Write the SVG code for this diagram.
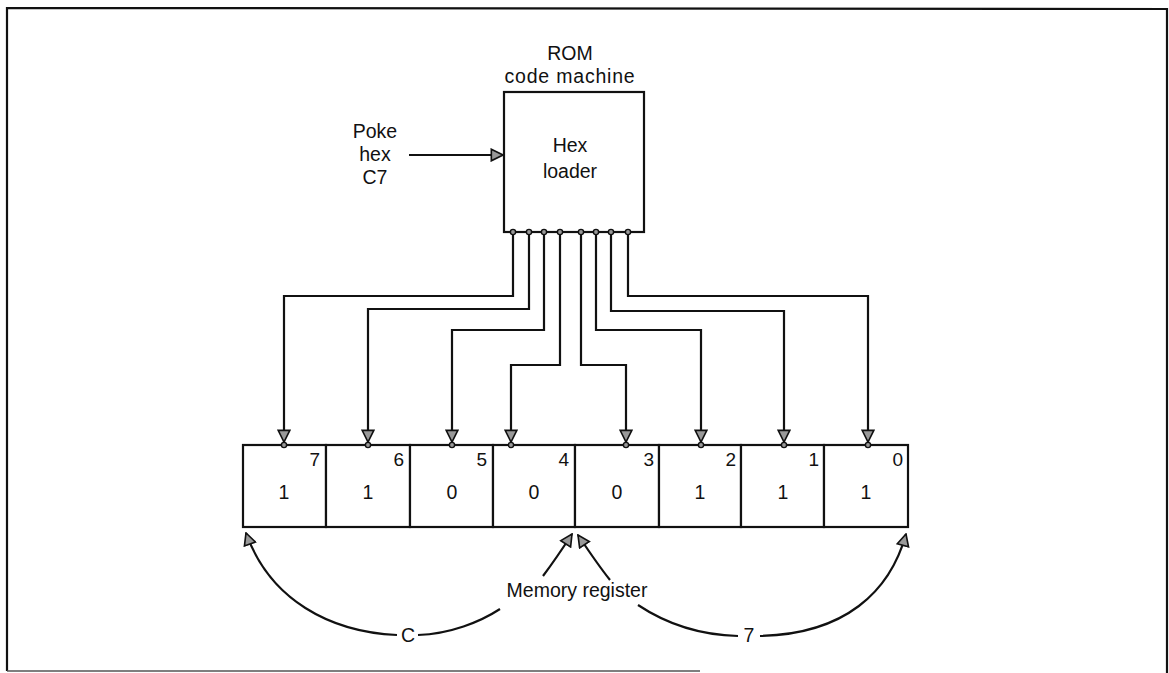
<svg xmlns="http://www.w3.org/2000/svg" width="1169" height="673" viewBox="0 0 1169 673">
<defs>
<style>
.t{font-family:"Liberation Sans",Arial,sans-serif;font-size:19.5px;fill:#111;text-anchor:middle}
.idx{font-family:"Liberation Sans",Arial,sans-serif;font-size:19px;fill:#111;text-anchor:end}
.ln{fill:none;stroke:#111;stroke-width:2.2}
.cell{fill:#fff;stroke:#111;stroke-width:2.2}
.dot{fill:#999;stroke:#111;stroke-width:1.4}
</style>
<marker id="ah" markerUnits="userSpaceOnUse" markerWidth="14" markerHeight="14" viewBox="0 0 12 12" refX="11" refY="6" orient="auto">
<path d="M1,1 L11,6 L1,11 z" fill="#999" stroke="#111" stroke-width="1.4"/>
</marker>
</defs>
<rect width="1169" height="673" fill="#fff"/>
<g id="frame">
<path d="M7,671 L7,8 L1167,9 L1167,673" class="ln"/>
<path d="M7,671 L700,671" stroke="#555" stroke-width="1.5" fill="none"/>
</g>
<g id="rom-label">
<text class="t" x="570" y="60">ROM</text>
<text class="t" x="570" y="83" letter-spacing="0.8">code machine</text>
</g>
<g id="hex-loader">
<rect x="504" y="92" width="140" height="140" class="cell"/>
<text class="t" x="570" y="152">Hex</text>
<text class="t" x="570" y="178">loader</text>
<circle class="dot" cx="513" cy="232" r="2.6"/>
<circle class="dot" cx="529" cy="232" r="2.6"/>
<circle class="dot" cx="544" cy="232" r="2.6"/>
<circle class="dot" cx="560" cy="232" r="2.6"/>
<circle class="dot" cx="581" cy="232" r="2.6"/>
<circle class="dot" cx="596" cy="232" r="2.6"/>
<circle class="dot" cx="611" cy="232" r="2.6"/>
<circle class="dot" cx="628" cy="232" r="2.6"/>
</g>
<g id="poke-label">
<text class="t" x="375" y="138">Poke</text>
<text class="t" x="375" y="161">hex</text>
<text class="t" x="375" y="184">C7</text>
</g>
<g id="register">
<rect x="243" y="445" width="83" height="82" class="cell"/>
<rect x="326" y="445" width="84" height="82" class="cell"/>
<rect x="410" y="445" width="83" height="82" class="cell"/>
<rect x="493" y="445" width="82" height="82" class="cell"/>
<rect x="575" y="445" width="84" height="82" class="cell"/>
<rect x="659" y="445" width="82" height="82" class="cell"/>
<rect x="741" y="445" width="83" height="82" class="cell"/>
<rect x="824" y="445" width="84" height="82" class="cell"/>
<text class="idx" x="320" y="466">7</text>
<text class="idx" x="404" y="466">6</text>
<text class="idx" x="487" y="466">5</text>
<text class="idx" x="569" y="466">4</text>
<text class="idx" x="654" y="466">3</text>
<text class="idx" x="736" y="466">2</text>
<text class="idx" x="819" y="466">1</text>
<text class="idx" x="903" y="466">0</text>
<text class="t" x="284" y="499">1</text>
<text class="t" x="368" y="499">1</text>
<text class="t" x="452" y="499">0</text>
<text class="t" x="534" y="499">0</text>
<text class="t" x="617" y="499">0</text>
<text class="t" x="700" y="499">1</text>
<text class="t" x="783" y="499">1</text>
<text class="t" x="866" y="499">1</text>
<circle class="dot" cx="284" cy="445" r="2.6"/>
<circle class="dot" cx="368" cy="445" r="2.6"/>
<circle class="dot" cx="452" cy="445" r="2.6"/>
<circle class="dot" cx="511" cy="445" r="2.6"/>
<circle class="dot" cx="626" cy="445" r="2.6"/>
<circle class="dot" cx="701" cy="445" r="2.6"/>
<circle class="dot" cx="784" cy="445" r="2.6"/>
<circle class="dot" cx="868" cy="445" r="2.6"/>
</g>
<g id="register-label">
<text class="t" x="577" y="597">Memory register</text>
<text class="t" x="408" y="642">C</text>
<text class="t" x="749" y="642">7</text>
</g>
<g id="connectors">
<path class="ln" d="M409,155 L503,155" marker-end="url(#ah)"/>
<path class="ln" d="M513,235 V296 H284 V442" marker-end="url(#ah)"/>
<path class="ln" d="M529,235 V309 H368 V442" marker-end="url(#ah)"/>
<path class="ln" d="M544,235 V330 H452 V442" marker-end="url(#ah)"/>
<path class="ln" d="M560,235 V365 H511 V442" marker-end="url(#ah)"/>
<path class="ln" d="M581,235 V365 H626 V442" marker-end="url(#ah)"/>
<path class="ln" d="M596,235 V330 H701 V442" marker-end="url(#ah)"/>
<path class="ln" d="M611,235 V311 H784 V442" marker-end="url(#ah)"/>
<path class="ln" d="M628,235 V296 H868 V442" marker-end="url(#ah)"/>
<path class="ln" d="M397,635 C330,632 270,600 246,533" marker-end="url(#ah)"/>
<path class="ln" d="M418,635 C450,634 480,622 500,609"/>
<path class="ln" d="M543,576 C555,560 563,548 572,534" marker-end="url(#ah)"/>
<path class="ln" d="M610,580 C598,565 588,550 578,535" marker-end="url(#ah)"/>
<path class="ln" d="M638,605 C668,625 700,635 738,636"/>
<path class="ln" d="M760,636 C845,634 890,592 906,534" marker-end="url(#ah)"/>
</g>
</svg>
